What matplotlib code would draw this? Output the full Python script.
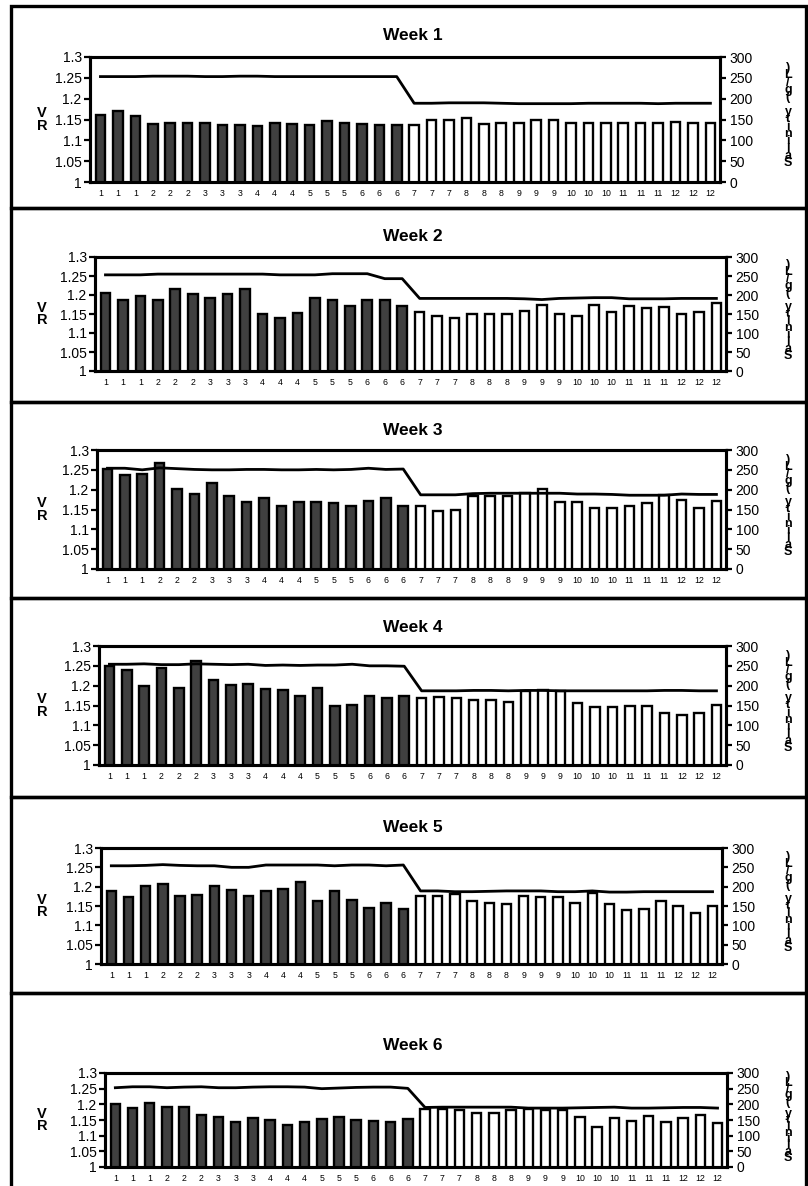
import matplotlib
matplotlib.use("Agg")
import matplotlib.pyplot as plt
from matplotlib.patches import Rectangle

plt.rcParams['font.family'] = ['Liberation Sans', 'DejaVu Sans']

W, H = 808, 1186

# ---------------- data ----------------
x_labels = [str(m) for m in range(1, 13) for _ in range(3)]
week_titles = ["Week 1", "Week 2", "Week 3", "Week 4", "Week 5", "Week 6"]
left_label = "VR"
right_label = "Salinity (g/L)"

vr_w1 = [1.161, 1.170, 1.159, 1.139, 1.142, 1.141, 1.141, 1.138, 1.138, 1.134, 1.141, 1.139,
         1.138, 1.146, 1.141, 1.139, 1.138, 1.137,
         1.137, 1.150, 1.150, 1.153, 1.139, 1.142, 1.142, 1.150, 1.150, 1.142, 1.142, 1.141,
         1.142, 1.141, 1.141, 1.143, 1.142, 1.142]
vr_w2 = [1.206, 1.188, 1.198, 1.186, 1.215, 1.202, 1.191, 1.202, 1.215, 1.150, 1.140, 1.153,
         1.191, 1.186, 1.171, 1.186, 1.186, 1.170,
         1.156, 1.144, 1.140, 1.150, 1.151, 1.150, 1.158, 1.175, 1.150, 1.145, 1.173, 1.154,
         1.171, 1.167, 1.169, 1.150, 1.156, 1.178]
vr_w3 = [1.251, 1.237, 1.239, 1.268, 1.201, 1.189, 1.218, 1.183, 1.170, 1.178, 1.159, 1.168,
         1.170, 1.166, 1.159, 1.172, 1.178, 1.158,
         1.159, 1.147, 1.149, 1.183, 1.184, 1.184, 1.191, 1.202, 1.170, 1.170, 1.155, 1.153,
         1.160, 1.166, 1.187, 1.174, 1.155, 1.172]
vr_w4 = [1.250, 1.239, 1.200, 1.245, 1.194, 1.261, 1.214, 1.202, 1.203, 1.192, 1.188, 1.174,
         1.194, 1.148, 1.151, 1.175, 1.169, 1.175,
         1.169, 1.171, 1.169, 1.164, 1.164, 1.160, 1.187, 1.189, 1.187, 1.157, 1.147, 1.147,
         1.149, 1.150, 1.130, 1.125, 1.132, 1.152]
vr_w5 = [1.189, 1.172, 1.201, 1.207, 1.177, 1.179, 1.201, 1.192, 1.175, 1.189, 1.195, 1.212,
         1.164, 1.188, 1.166, 1.144, 1.157, 1.142,
         1.175, 1.175, 1.181, 1.162, 1.157, 1.156, 1.175, 1.173, 1.173, 1.157, 1.183, 1.155,
         1.140, 1.143, 1.163, 1.151, 1.133, 1.151]
vr_w6 = [1.200, 1.187, 1.205, 1.193, 1.193, 1.167, 1.161, 1.143, 1.157, 1.151, 1.134, 1.143,
         1.153, 1.159, 1.149, 1.146, 1.143, 1.153,
         1.185, 1.185, 1.181, 1.173, 1.172, 1.181, 1.185, 1.182, 1.181, 1.161, 1.128, 1.155,
         1.146, 1.163, 1.144, 1.157, 1.166, 1.142]

sal_w1 = [253, 253, 253, 254, 254, 254, 253, 253, 254, 254, 253, 253, 253, 253, 253, 253, 253, 253,
          189, 189, 190, 190, 190, 189, 188, 188, 188, 188, 189, 189, 189, 189, 188, 189, 189, 189]
sal_w2 = [253, 253, 253, 255, 255, 255, 255, 255, 255, 255, 253, 253, 253, 256, 256, 256, 243, 243,
          191, 191, 191, 191, 191, 191, 190, 188, 191, 192, 193, 193, 190, 190, 190, 191, 191, 191]
sal_w3 = [254, 254, 250, 255, 253, 251, 250, 250, 251, 251, 250, 250, 251, 250, 251, 254, 251, 252,
          187, 187, 187, 190, 191, 191, 191, 191, 191, 189, 189, 188, 186, 186, 186, 189, 188, 188]
sal_w4 = [254, 254, 255, 253, 253, 255, 254, 253, 254, 251, 252, 251, 252, 252, 254, 250, 250, 249,
          187, 187, 187, 188, 188, 187, 188, 188, 187, 187, 187, 187, 187, 187, 188, 188, 187, 187]
sal_w5 = [254, 254, 255, 257, 255, 254, 254, 250, 250, 256, 256, 256, 256, 254, 256, 256, 254, 256,
          189, 189, 187, 187, 188, 189, 189, 189, 187, 187, 189, 186, 186, 187, 187, 187, 187, 187]
sal_w6 = [253, 256, 256, 253, 255, 256, 253, 253, 255, 256, 256, 255, 250, 252, 254, 255, 255, 251,
          190, 191, 191, 191, 191, 191, 188, 188, 188, 189, 190, 191, 188, 188, 189, 190, 190, 188]

vr_all = [vr_w1, vr_w2, vr_w3, vr_w4, vr_w5, vr_w6]
sal_all = [sal_w1, sal_w2, sal_w3, sal_w4, sal_w5, sal_w6]

# --------------- layout (pixels) ---------------
# box_top, box_bottom, ax_top, ax_bottom, ax_left, ax_right, title_y
geom = [
    (6, 208, 57, 182, 90, 720, 36),
    (208, 402, 257, 371, 95, 726, 237),
    (402, 598, 450, 569, 97, 726, 430),
    (598, 797, 646, 765, 99, 726, 628),
    (797, 993, 848, 964, 101, 722, 827),
    (993, 1192, 1073, 1167, 105, 727, 1046),
]

fig = plt.figure(figsize=(W / 100, H / 100), dpi=100)

def fx(px):
    return px / W

def fy(py):
    return 1 - py / H

n = len(x_labels)
xs = list(range(n))
face = ['#404040' if i < 18 else 'white' for i in range(n)]

stacked_right = "\n".join(reversed([c if c != ' ' else ' ' for c in right_label]))
stacked_left = "\n".join(left_label)

for k, (bt, bb, at, ab, al, ar, ty) in enumerate(geom):
    # panel box
    fig.add_artist(Rectangle((fx(11), fy(bb)), fx(806) - fx(11), fy(bt) - fy(bb),
                             transform=fig.transFigure, fill=False, lw=2.4,
                             edgecolor='black', zorder=0))
    ax = fig.add_axes([fx(al), fy(ab), fx(ar) - fx(al), fy(at) - fy(ab)])
    ax.bar(xs, vr_all[k], width=0.55, color=face, edgecolor='black', linewidth=1.7)
    ax.set_ylim(1, 1.3)
    ax.set_xlim(-0.6, n - 0.45)
    ax.set_yticks([1, 1.05, 1.1, 1.15, 1.2, 1.25, 1.3])
    ax.set_yticklabels(["1", "1.05", "1.1", "1.15", "1.2", "1.25", "1.3"], fontsize=10)
    ax.set_xticks(xs)
    ax.set_xticklabels(x_labels, fontsize=6.3)
    ax.tick_params(axis='x', length=0, pad=5)
    ax.tick_params(axis='y', direction='out', length=4, width=1.6, pad=2)
    for s in ax.spines.values():
        s.set_linewidth(2.2)

    ax2 = ax.twinx()
    ax2.plot(xs, sal_all[k], color='black', lw=2.0)
    ax2.set_ylim(0, 300)
    ax2.set_yticks([0, 50, 100, 150, 200, 250, 300])
    ax2.set_yticklabels(["0", "50", "100", "150", "200", "250", "300"], fontsize=10)
    ax2.tick_params(axis='y', direction='out', length=4, width=1.6, pad=3)
    for s in ax2.spines.values():
        s.set_linewidth(2.2)

    # title
    fig.text(fx(413), fy(ty), week_titles[k], ha='center', va='center',
             fontsize=12.5, fontweight='bold')

    hgt = ab - at
    mid = (at + ab) / 2
    # left label (stacked letters)
    fig.text(fx(42), fy(mid), stacked_left, ha='center', va='center', fontsize=10.5,
             fontweight='bold', linespacing=0.85)

    # right label (stacked upright letters, reading bottom to top)
    fig.text(fx(788), fy(at + 0.47 * hgt), stacked_right, ha='center', va='center',
             fontsize=9, fontweight='bold', linespacing=0.48 * hgt / 125)

fig.savefig("out.png", dpi=100)
